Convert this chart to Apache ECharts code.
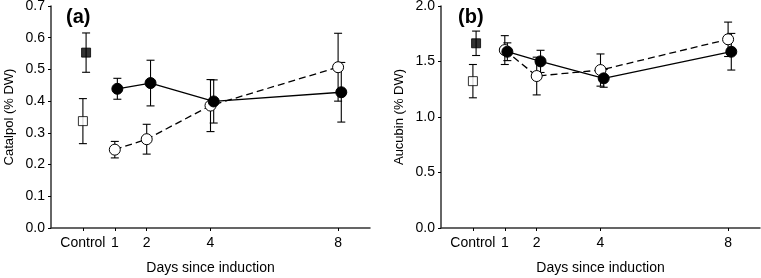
<!DOCTYPE html>
<html><head><meta charset="utf-8">
<script src="https://cdn.jsdelivr.net/npm/echarts@6/dist/echarts.min.js"></script>
<style>html,body{margin:0;padding:0;background:#fff}#c{width:761px;height:278px}</style>
</head><body><div id="c"></div>
<script>
// Categories / x positions (days since induction; control plotted at 0)
const xTickValues = [0, 1, 2, 4, 8];
const xTickLabels = ['Control', '1', '2', '4', '8'];
const daysOpen = [1, 2, 4, 8];
const daysFilled = [1.08, 2.12, 4.1, 8.1];
const controlOpenX = 0;
const controlFilledX = 0.1;

// Panel (a) Catalpol (% DW)
const catalpolFilled = [0.439, 0.457, 0.399, 0.428];
const catalpolFilledErr = [0.033, 0.072, 0.068, 0.094];
const catalpolOpen = [0.247, 0.280, 0.386, 0.507];
const catalpolOpenErr = [0.026, 0.047, 0.082, 0.107];
const catalpolControlFilled = 0.553, catalpolControlFilledErr = 0.062;
const catalpolControlOpen = 0.337, catalpolControlOpenErr = 0.071;

// Panel (b) Aucubin (% DW)
const aucubinFilled = [1.588, 1.501, 1.348, 1.588];
const aucubinFilledErr = [0.08, 0.10, 0.08, 0.165];
const aucubinOpen = [1.603, 1.369, 1.423, 1.70];
const aucubinOpenErr = [0.13, 0.17, 0.145, 0.155];
const aucubinControlFilled = 1.664, aucubinControlFilledErr = 0.11;
const aucubinControlOpen = 1.323, aucubinControlOpenErr = 0.15;

const FONT = 'Liberation Sans, Arial, sans-serif';
const AX = '#333';

function errData(xs, ys, es) {
  return xs.map((x, i) => [x, ys[i] - es[i], ys[i] + es[i]]);
}
function errSeries(idx, data) {
  return {
    type: 'custom', xAxisIndex: idx, yAxisIndex: idx, z: 1, silent: true,
    data: data,
    encode: { x: 0, y: [1, 2] },
    renderItem: function (params, api) {
      const x = api.value(0);
      const lo = api.coord([x, api.value(1)]);
      const hi = api.coord([x, api.value(2)]);
      const w = 4;
      const st = { stroke: '#000', lineWidth: 1.1 };
      return { type: 'group', children: [
        { type: 'line', shape: { x1: lo[0], y1: lo[1], x2: hi[0], y2: hi[1] }, style: st },
        { type: 'line', shape: { x1: lo[0] - w, y1: lo[1], x2: lo[0] + w, y2: lo[1] }, style: st },
        { type: 'line', shape: { x1: hi[0] - w, y1: hi[1], x2: hi[0] + w, y2: hi[1] }, style: st }
      ]};
    }
  };
}
function pair(xs, ys) { return xs.map((x, i) => [x, ys[i]]); }

function panelSeries(idx, filled, filledErr, open, openErr, cF, cFE, cO, cOE) {
  const eb = errData(daysOpen, open, openErr)
    .concat(errData(daysFilled, filled, filledErr))
    .concat([[controlOpenX, cO - cOE, cO + cOE], [controlFilledX, cF - cFE, cF + cFE]]);
  return [
    errSeries(idx, eb),
    { type: 'line', xAxisIndex: idx, yAxisIndex: idx, z: 3, data: pair(daysOpen, open),
      symbol: 'circle', symbolSize: 11,
      lineStyle: { color: '#000', width: 1.3, type: [7, 4] },
      itemStyle: { color: '#fff', borderColor: '#000', borderWidth: 1 } },
    { type: 'line', xAxisIndex: idx, yAxisIndex: idx, z: 4, data: pair(daysFilled, filled),
      symbol: 'circle', symbolSize: 11,
      lineStyle: { color: '#000', width: 1.3 },
      itemStyle: { color: '#000', borderColor: '#000', borderWidth: 1 } },
    { type: 'scatter', xAxisIndex: idx, yAxisIndex: idx, z: 4, data: [[controlFilledX, cF]],
      symbol: 'rect', symbolSize: 9,
      itemStyle: { color: '#000', borderColor: '#000', borderWidth: 1 } },
    { type: 'scatter', xAxisIndex: idx, yAxisIndex: idx, z: 4, data: [[controlOpenX, cO]],
      symbol: 'rect', symbolSize: 9,
      itemStyle: { color: '#fff', borderColor: '#000', borderWidth: 1 } }
  ];
}

function xAxis(idx) {
  return {
    type: 'value', gridIndex: idx, min: -1, max: 9, interval: 1,
    name: 'Days since induction', nameLocation: 'middle', nameGap: 33,
    nameTextStyle: { fontFamily: FONT, fontSize: 14, color: '#000' },
    axisLine: { show: true, onZero: false, lineStyle: { color: AX, width: 1.5 } },
    axisTick: { show: true, customValues: xTickValues, length: 3, lineStyle: { color: '#000' } },
    axisLabel: { customValues: xTickValues, margin: 8, fontFamily: FONT, fontSize: 14, color: '#000',
      formatter: v => { const i = xTickValues.indexOf(v); return i >= 0 ? xTickLabels[i] : ''; } },
    splitLine: { show: false }
  };
}
function yAxis(idx, name, max, interval) {
  return {
    type: 'value', gridIndex: idx, min: 0, max: max, interval: interval,
    name: name, nameLocation: 'middle', nameGap: 35, nameRotate: 90,
    nameTextStyle: { fontFamily: FONT, fontSize: 13, color: '#000' },
    axisLine: { show: true, onZero: false, lineStyle: { color: AX, width: 1.5 } },
    axisTick: { show: true, length: 3, lineStyle: { color: '#000' } },
    axisLabel: { margin: 6, fontFamily: FONT, fontSize: 14, color: '#000', formatter: v => v.toFixed(1) },
    splitLine: { show: false }
  };
}

const option = {
  animation: false,
  backgroundColor: '#fff',
  title: [
    { text: '(a)', left: 61, top: 2, textStyle: { fontFamily: FONT, fontSize: 20, fontWeight: 'bold', color: '#000' } },
    { text: '(b)', left: 453, top: 2, textStyle: { fontFamily: FONT, fontSize: 20, fontWeight: 'bold', color: '#000' } }
  ],
  grid: [
    { left: 51, right: 391, top: 6, bottom: 50, outerBoundsMode: 'none', containLabel: false },
    { left: 441, right: 1, top: 6, bottom: 50, outerBoundsMode: 'none', containLabel: false }
  ],
  xAxis: [xAxis(0), xAxis(1)],
  yAxis: [yAxis(0, 'Catalpol (% DW)', 0.7, 0.1), yAxis(1, 'Aucubin (% DW)', 2.0, 0.5)],
  series: [].concat(
    panelSeries(0, catalpolFilled, catalpolFilledErr, catalpolOpen, catalpolOpenErr,
      catalpolControlFilled, catalpolControlFilledErr, catalpolControlOpen, catalpolControlOpenErr),
    panelSeries(1, aucubinFilled, aucubinFilledErr, aucubinOpen, aucubinOpenErr,
      aucubinControlFilled, aucubinControlFilledErr, aucubinControlOpen, aucubinControlOpenErr)
  )
};
echarts.init(document.getElementById('c'), null, { renderer: 'canvas' }).setOption(option);
</script></body></html>
